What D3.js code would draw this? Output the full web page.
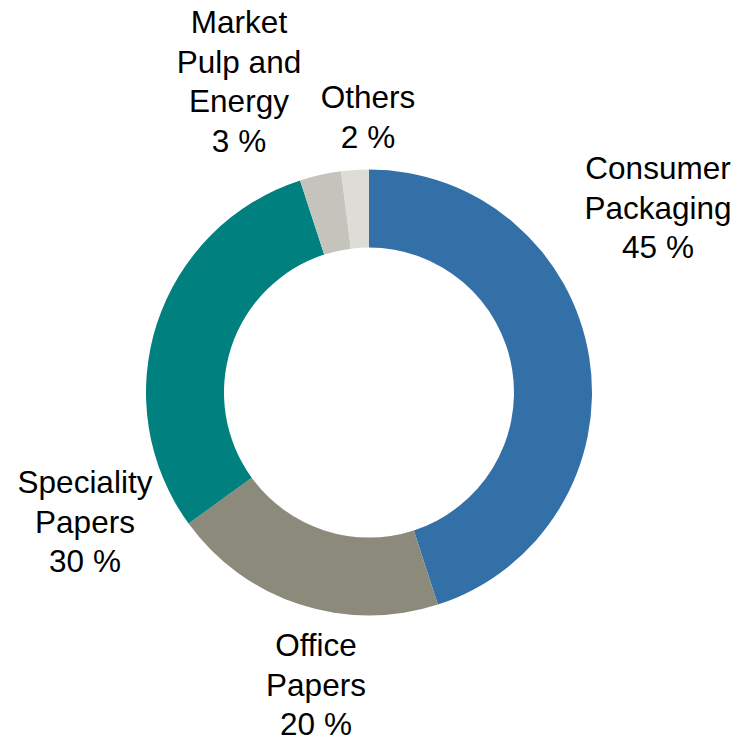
<!DOCTYPE html>
<html lang="en">
	<head>
		<meta charset="utf-8">
		<title>Sales by segment</title>
		<script src="https://d3js.org/d3.v7.min.js"></script>
		<style type="text/css">
			body { margin: 0; background: #fff; }
			.label text {
				font-family: "Liberation Sans", Arial, sans-serif;
				font-size: 31.5px;
				fill: #000;
			}
		</style>
	</head>
	<body>
		<script type="text/javascript">
			//Data
			var categories = ["Consumer Packaging", "Office Papers", "Speciality Papers", "Market Pulp and Energy", "Others"];
			var values = [45, 20, 30, 3, 2];
			var labelLines = [
				["Consumer", "Packaging", "45 %"],
				["Office", "Papers", "20 %"],
				["Speciality", "Papers", "30 %"],
				["Market", "Pulp and", "Energy", "3 %"],
				["Others", "2 %"]
			];
			var colors = ["#3470a8", "#8b8a7b", "#00807e", "#c5c4bc", "#dddcd7"];

			//Layout
			var w = 750;
			var h = 741;
			var cx = 369, cy = 392.5;
			var outerR = 223, innerR = 145;
			var lineH = 39.5;
			//first baseline of each label block (x centre, y)
			var labelAnchors = [[658, 179], [316, 656], [85, 493], [239, 33], [368, 108]];

			var svg = d3.select("body")
						.append("svg")
						.attr("width", w)
						.attr("height", h);

			var pie = d3.pie()
						.sort(null)
						.value(function(d) { return d; });

			var arc = d3.arc()
						.innerRadius(innerR)
						.outerRadius(outerR);

			var color = d3.scaleOrdinal()
						.domain(categories)
						.range(colors);

			var arcs = pie(values);

			svg.append("g")
			   .attr("transform", "translate(" + cx + "," + cy + ")")
			   .selectAll("path")
			   .data(arcs)
			   .enter()
			   .append("path")
			   .attr("d", arc)
			   .attr("fill", function(d, i) { return color(categories[i]); });

			//Labels
			var labels = svg.append("g")
							.attr("class", "label")
							.selectAll("text")
							.data(labelLines)
							.enter()
							.append("text")
							.attr("text-anchor", "middle")
							.attr("x", function(d, i) { return labelAnchors[i][0]; })
							.attr("y", function(d, i) { return labelAnchors[i][1]; });

			labels.each(function(lines, i) {
				var t = d3.select(this);
				lines.forEach(function(s, j) {
					t.append("tspan")
					 .attr("x", labelAnchors[i][0])
					 .attr("y", labelAnchors[i][1] + j * lineH)
					 .text(s);
				});
			});
		</script>
	</body>
</html>
